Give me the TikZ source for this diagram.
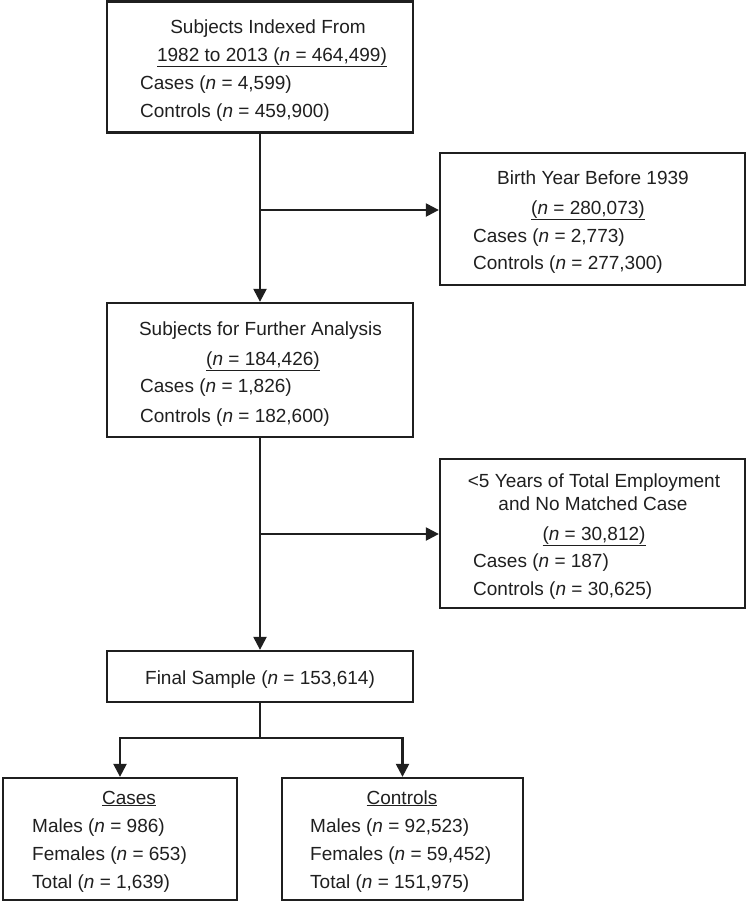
\documentclass[tikz,border=0pt]{standalone}
\usepackage{fontspec}
\setmainfont{Liberation Sans}
\usetikzlibrary{arrows.meta}
\begin{document}
\begin{tikzpicture}[x=1pt,y=-1pt,
  box/.style={draw=black!88,line width=2.3pt,inner sep=0pt,rectangle},
  txt/.style={inner sep=0pt,text=black!88,font=\fontsize{19pt}{23pt}\selectfont},
  ctr/.style={txt,anchor=base},
  lft/.style={txt,anchor=base west},
  conn/.style={draw=black!88,line width=2.3pt},
  arr/.style={conn,-{Triangle[length=13pt,width=13pt]}}
]
\useasboundingbox (0,0) rectangle (747,902);

% boxes
\node[box,minimum width=306pt,minimum height=131pt] (b1) at (260,67) {};
\node[box,minimum width=305pt,minimum height=132pt] (b2) at (592.5,219) {};
\node[box,minimum width=306pt,minimum height=134pt] (b3) at (260,370) {};
\node[box,minimum width=305pt,minimum height=149pt] (b4) at (592.5,533.5) {};
\node[box,minimum width=306pt,minimum height=51pt] (b5) at (260,676.5) {};
\node[box,minimum width=234pt,minimum height=122pt] (b6) at (120,839) {};
\node[box,minimum width=241pt,minimum height=122pt] (b7) at (402.5,839) {};

% texts box 1
\node[ctr] (t1a) at (268,33) {Subjects Indexed From};
\node[ctr] (t1b) at (272,61) {\underline{1982 to 2013 (\textit{n} = 464,499)}};
\node[lft] (t1c) at (140,89) {Cases (\textit{n} = 4,599)};
\node[lft] (t1d) at (140,117) {Controls (\textit{n} = 459,900)};

% texts box 2
\node[ctr] (t2a) at (593,184) {Birth Year Before 1939};
\node[ctr] (t2b) at (588,214) {\underline{(\textit{n} = 280,073)}};
\node[lft] (t2c) at (473,242) {Cases (\textit{n} = 2,773)};
\node[lft] (t2d) at (473,269) {Controls (\textit{n} = 277,300)};

% texts box 3
\node[ctr] (t3a) at (260.5,335) {Subjects for Further Analysis};
\node[ctr] (t3b) at (263,365) {\underline{(\textit{n} = 184,426)}};
\node[lft] (t3c) at (140,392) {Cases (\textit{n} = 1,826)};
\node[lft] (t3d) at (140,422) {Controls (\textit{n} = 182,600)};

% texts box 4
\node[ctr] (t4a) at (594,487) {<5 Years of Total Employment};
\node[ctr] (t4b) at (593,510) {and No Matched Case};
\node[ctr] (t4c) at (594,540) {\underline{(\textit{n} = 30,812)}};
\node[lft] (t4d) at (473,567) {Cases (\textit{n} = 187)};
\node[lft] (t4e) at (473,595) {Controls (\textit{n} = 30,625)};

% box 5
\node[ctr] (t5) at (260,684) {Final Sample (\textit{n} = 153,614)};

% box 6
\node[ctr] (t6a) at (129,804) {\underline{Cases}};
\node[lft] (t6b) at (32,832) {Males (\textit{n} = 986)};
\node[lft] (t6c) at (32,860) {Females (\textit{n} = 653)};
\node[lft] (t6d) at (32,888) {Total (\textit{n} = 1,639)};

% box 7
\node[ctr] (t7a) at (402,804) {\underline{Controls}};
\node[lft] (t7b) at (310,832) {Males (\textit{n} = 92,523)};
\node[lft] (t7c) at (310,860) {Females (\textit{n} = 59,452)};
\node[lft] (t7d) at (310,888) {Total (\textit{n} = 151,975)};

% connectors
\coordinate (j1) at (260,210);
\coordinate (j2) at (260,534);
\coordinate (j3) at (260,738);
\draw[arr] (b1.south) -- (b3.north);
\draw[arr] (j1) -- (j1 -| b2.west);
\draw[arr] (b3.south) -- (b5.north);
\draw[arr] (j2) -- (j2 -| b4.west);
\draw[conn] (b5.south) -- (j3);
\draw[arr] (j3) -| (b6.north);
\draw[arr] (j3) -| (b7.north);
\end{tikzpicture}
\end{document}
